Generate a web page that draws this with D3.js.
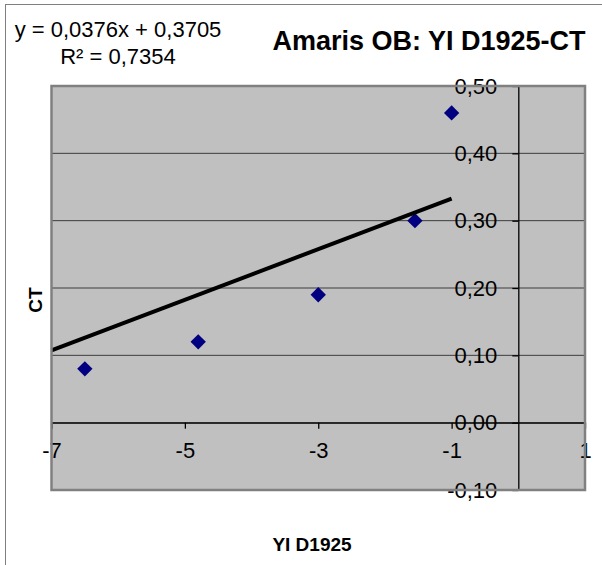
<!DOCTYPE html>
<html>
<head>
<meta charset="utf-8">
<script src="https://cdn.jsdelivr.net/npm/d3@7"></script>
<style>
  body { margin: 0; background: #fff; }
  svg text { font-family: "Liberation Sans", Arial, sans-serif; fill: #000; }
</style>
</head>
<body>
<div id="chart-area"></div>
<script>

// SVG Size
var width = 602,
		height = 565;

// Data
var xValues = [-6.5, -4.8, -3, -1.55, -1];
var ctValues = [0.08, 0.12, 0.19, 0.30, 0.46];

// Trendline as printed on the chart
var slope = 0.0376,
		intercept = 0.3705,
		rSquared = 0.7354;
var trendRange = [-7, -1];

// Axes
var xTicks = [-7, -5, -3, -1, 1];
var yTicks = [-0.1, 0, 0.1, 0.2, 0.3, 0.4, 0.5];

var title = "Amaris OB: YI D1925-CT",
		xTitle = "YI D1925",
		yTitle = "CT";

// Comma decimal, plain hyphen minus
var locale = d3.formatLocale({ decimal: ",", thousands: ".", grouping: [3], currency: ["", ""], minus: "-" });
var fmtY = locale.format(".2f"),
		fmtX = locale.format("d"),
		fmtCoef = locale.format(".4f");

var svg = d3.select("#chart-area").append("svg")
		.attr("width", width)
		.attr("height", height);

// Outer chart frame (runs off the right/bottom edge)
svg.append("rect")
	.attr("x", 5.5).attr("y", 4.5)
	.attr("width", 620).attr("height", 580)
	.attr("fill", "#fff")
	.attr("stroke", "#808080");

// Plot area
var plot = { left: 51.5, right: 585, top: 86, bottom: 490 };

var x = d3.scaleLinear()
	.domain([-7, 1])
	.range([plot.left, plot.right]);

var y = d3.scaleLinear()
	.domain([-0.1, 0.5])
	.range([plot.bottom, plot.top]);

svg.append("rect")
	.attr("x", plot.left).attr("y", plot.top)
	.attr("width", plot.right - plot.left)
	.attr("height", plot.bottom - plot.top)
	.attr("fill", "#c0c0c0");

// Horizontal gridlines
svg.append("g")
	.selectAll("line")
	.data(yTicks)
	.enter()
	.append("line")
	.attr("x1", plot.left).attr("x2", plot.right)
	.attr("y1", function(d){ return y(d); })
	.attr("y2", function(d){ return y(d); })
	.attr("stroke", "#3c3c3c")
	.attr("stroke-width", 1);

// X axis crosses at y = 0
var xAxis = svg.append("g")
	.attr("transform", "translate(0," + y(0) + ")")
	.call(d3.axisBottom(x).tickValues(xTicks).tickFormat(fmtX).tickSize(6).tickSizeOuter(0).tickPadding(14));

// Y axis crosses at x = 0
var yAxis = svg.append("g")
	.attr("transform", "translate(" + x(0) + ",0)")
	.call(d3.axisLeft(y).tickValues(yTicks).tickFormat(fmtY).tickSize(6).tickSizeOuter(0).tickPadding(15));

[xAxis, yAxis].forEach(function(g){
	g.selectAll("path, line").attr("stroke", "#000").attr("stroke-width", 1.3);
	g.selectAll("text").attr("font-size", 22).attr("fill", "#000");
	g.attr("font-family", null);
});

// Points
svg.append("g")
	.selectAll("path")
	.data(xValues)
	.enter()
	.append("path")
	.attr("d", d3.symbol(d3.symbolDiamond2, 150))
	.attr("transform", function(d, i){ return "translate(" + x(d) + "," + y(ctValues[i]) + ")"; })
	.attr("fill", "#000080");

// Linear trendline
svg.append("line")
	.attr("x1", x(trendRange[0]))
	.attr("y1", y(slope * trendRange[0] + intercept))
	.attr("x2", x(trendRange[1]))
	.attr("y2", y(slope * trendRange[1] + intercept))
	.attr("stroke", "#000")
	.attr("stroke-width", 4);

// Plot border
svg.append("rect")
	.attr("x", plot.left).attr("y", plot.top)
	.attr("width", plot.right - plot.left)
	.attr("height", plot.bottom - plot.top)
	.attr("fill", "none")
	.attr("stroke", "#808080")
	.attr("stroke-width", 2.5);

// Trendline equation
svg.append("text")
	.attr("x", 118).attr("y", 37)
	.attr("text-anchor", "middle")
	.attr("font-size", 22)
	.text("y = " + fmtCoef(slope) + "x + " + fmtCoef(intercept));

svg.append("text")
	.attr("x", 118).attr("y", 64)
	.attr("text-anchor", "middle")
	.attr("font-size", 22)
	.text("R² = " + fmtCoef(rSquared));

// Titles
svg.append("text")
	.attr("x", 429).attr("y", 50)
	.attr("text-anchor", "middle")
	.attr("font-size", 27)
	.attr("font-weight", "bold")
	.text(title);

svg.append("text")
	.attr("x", 312).attr("y", 551)
	.attr("text-anchor", "middle")
	.attr("font-size", 19)
	.attr("font-weight", "bold")
	.text(xTitle);

svg.append("text")
	.attr("transform", "translate(42,300) rotate(-90)")
	.attr("text-anchor", "middle")
	.attr("font-size", 19)
	.attr("font-weight", "bold")
	.text(yTitle);

</script>
</body>
</html>
